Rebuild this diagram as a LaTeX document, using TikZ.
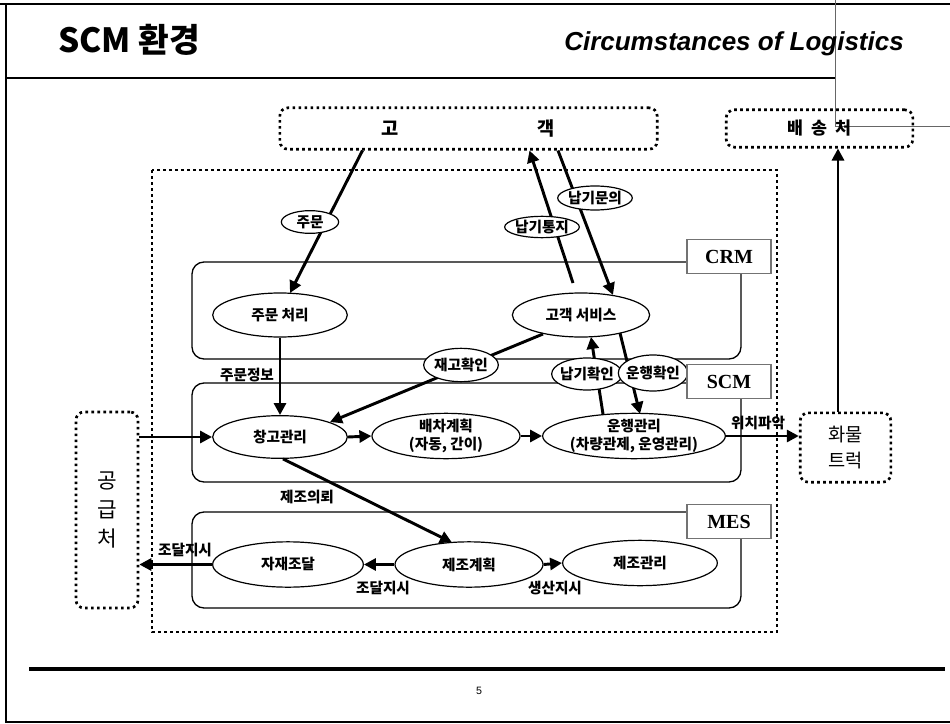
\documentclass[tikz,border=0pt]{standalone}
\usepackage{fontspec}
\setmainfont{Noto Sans CJK KR}
\newfontfamily\kr{Noto Sans CJK KR}
\newfontfamily\tms{Liberation Serif}
\newfontfamily\arl{Liberation Sans}
\usetikzlibrary{arrows.meta,calc,shapes.geometric}
\begin{document}
\begin{tikzpicture}[x=0.75pt,y=-0.75pt,
  arr/.style={line width=2.2pt,-{Triangle[length=9pt,width=9pt]}},
  dotbox/.style={draw,line width=2pt,dash pattern=on 2pt off 2.5pt,rounded corners=6pt,inner sep=0},
  dotline/.style={line width=2pt,dash pattern=on 2pt off 2.5pt},
  sysbox/.style={draw,line width=1pt,rounded corners=9pt},
  tag/.style={draw=black!55,fill=white,line width=0.8pt,minimum width=63pt,minimum height=26pt,inner sep=0,font=\tms\bfseries\fontsize{15}{15}\selectfont},
  proc/.style 2 args={ellipse,draw,fill=white,line width=0.9pt,inner sep=0,minimum width=#1,minimum height=#2},
  every label/.style={font=\kr\bfseries\fontsize{11}{13}\selectfont,align=center,inner sep=0},
  lbl/.style={font=\kr\bfseries\fontsize{11}{13}\selectfont,inner sep=0},
]
\useasboundingbox (0,0) rectangle (950,724);
% frame
\draw[line width=1.5pt] (0,4) -- (950,4);
\draw[line width=1.5pt] (6,4) -- (6,722) -- (950,722);
\draw[line width=1.2pt] (6,78) -- (836,78);
\draw[black!60,line width=0.5pt] (835,0) -- (835,126) -- (950,126);
\draw[line width=3pt] (29,669) -- (945,669);
\node[font=\arl\fontsize{8}{8}\selectfont] (pg) at (479,691) {5};
\node[anchor=base west,inner sep=0,font=\kr\bfseries\fontsize{25}{25}\selectfont] (t1) at (58,53) {SCM 환경};
\node[anchor=base west,inner sep=0,font=\arl\bfseries\itshape\fontsize{19.5}{20}\selectfont] (t2) at (564,51) {Circumstances of Logistics};
% regions
\draw[dotline] (152,170) rectangle (777,632);
\draw[sysbox] (192,262) rectangle (741,359);
\draw[sysbox] (192,383) rectangle (741,482);
\draw[sysbox] (192,512) rectangle (741,608);
% outer boxes
\node[dotbox,minimum width=283pt,minimum height=31pt,font=\kr\bfseries\fontsize{14}{14}\selectfont] (kk) at (468.5,128.5) {고\hspace{104pt}객};
\node[dotbox,minimum width=140pt,minimum height=28pt,font=\kr\bfseries\fontsize{13}{13}\selectfont] (bs) at (819.5,128.5) {배\hspace{6pt}송\hspace{6pt}처};
\node[dotbox,minimum width=46.5pt,minimum height=147pt,align=center,font=\kr\fontsize{16}{22}\selectfont] (gg) at (107,510) {공\\급\\처};
\node[dotbox,minimum width=68pt,minimum height=52pt,align=center,font=\kr\fontsize{14}{19}\selectfont] (hm) at (845.5,447.5) {화물\\트럭};
% processes
\node[proc={101pt}{33pt},label={center:{주문 처리}}] (jc) at (280,315) {};
\node[proc={103pt}{33pt},label={center:{고객 서비스}}] (gs) at (581,315) {};
\node[proc={101pt}{32pt},label={center:{창고관리}}] (ck) at (280,437) {};
\node[proc={111pt}{34pt},label={center:{배차계획\\(자동, 간이)}}] (bc) at (446,436) {};
\node[proc={137pt}{34pt},label={center:{운행관리\\(차량관제, 운영관리)}}] (uh) at (634,436) {};
\node[proc={113pt}{34pt},label={center:{자재조달}}] (jd) at (288,564.5) {};
\node[proc={111pt}{34pt},label={center:{제조계획}}] (jj) at (469,564.5) {};
\node[proc={116pt}{34pt},label={center:{제조관리}}] (jg) at (640,563) {};
% arrows
\draw[arr] ($(kk.south)+(-106,0)$) -- ($(jc.center)+(10,-22)$);
\draw[arr] ($(gs.center)+(-8,-32)$) -- ($(kk.south)+(61,0)$);
\draw[arr] ($(kk.south)+(89.5,0)$) -- ($(gs.center)+(32,-20)$);
\draw[arr] (jc.south) -- (ck.north);
\draw[arr] ($(gs.center)+(-38,19)$) -- ($(ck.center)+(50,-15)$);
\draw[arr] (ck.east) -- (bc.west);
\draw[arr] (bc.east) -- (uh.west);
\draw[arr] ($(uh.center)+(-31,-22)$) -- ($(gs.center)+(10,22)$);
\draw[arr] ($(gs.center)+(39,18)$) -- ($(uh.center)+(6,-22)$);
\draw[arr] (ck.west -| gg.east) -- (ck.west);
\draw[arr] (uh.east) -- (uh.east -| hm.west);
\coordinate (hmtop) at ($(hm.north)+(-7.5,0)$);
\draw[arr] (hmtop) -- (hmtop |- bs.south);
\draw[arr] ($(ck.south)+(3,0)$) -- ($(jj.center)+(-17,-22)$);
\draw[arr] (jj.west) -- (jd.east);
\draw[arr] (jj.east) -- (jg.west);
\draw[arr] (jd.west) -- (jd.west -| gg.east);
% label ellipses
\node[proc={43pt}{17pt},label={center:주문}] (ljm) at (310,222) {};
\node[proc={56pt}{16pt},label={center:납기통지}] (lnt) at (542,227) {};
\node[proc={56pt}{18pt},label={center:납기문의}] (lnm) at (595,198) {};
\node[proc={56pt}{25pt},label={center:재고확인}] (ljg) at (461,365) {};
\node[proc={53pt}{24pt},label={center:납기확인}] (lnh) at (587,374) {};
\node[proc={52pt}{27pt},label={center:운행확인}] (luh) at (653,373) {};
% tags
\node[tag] (tcrm) at (729,256.5) {CRM};
\node[tag] (tscm) at (729,381.5) {SCM};
\node[tag] (tmes) at (729,521.5) {MES};
% text labels
\node[lbl] (l1) at (247,375) {주문정보};
\node[lbl] (l2) at (307,497) {제조의뢰};
\node[lbl] (l3) at (185,550) {조달지시};
\node[lbl] (l4) at (383,588) {조달지시};
\node[lbl] (l5) at (555,588) {생산지시};
\node[lbl] (l6) at (758,423) {위치파악};
\end{tikzpicture}
\end{document}
